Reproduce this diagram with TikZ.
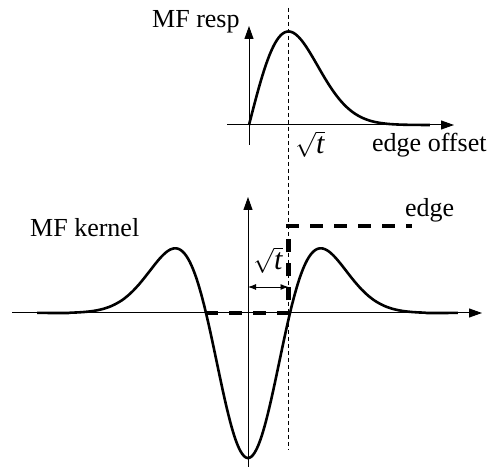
\documentclass[tikz,border=0pt]{standalone}
\usepackage{fontspec}
\setmainfont{Liberation Serif}
\usetikzlibrary{arrows.meta}
\begin{document}
\begin{tikzpicture}[x=1pt,y=-1pt,
  axis/.style={line width=1pt,-{Triangle[length=13pt,width=9pt]}},
  curve/.style={line width=2.6pt,line join=round},
  guide/.style={line width=0.9pt,dash pattern=on 4pt off 3pt},
  edgestep/.style={line width=4.5pt,dash pattern=on 13pt off 11pt},
  widtharrow/.style={line width=0.9pt,{Latex[length=8pt,width=6pt]}-{Latex[length=8pt,width=6pt]}},
  lbl/.style={font=\fontsize{26}{30}\selectfont,inner sep=0pt},
  rootlbl/.style={font=\fontsize{30}{34}\selectfont,inner sep=0pt}]
\useasboundingbox (0,0) rectangle (496,470);
% coordinates
\coordinate (ua0) at (249,145); \coordinate (ua1) at (249,26);
\coordinate (ux0) at (227,125); \coordinate (ux1) at (454,125);
\coordinate (la0) at (248,467); \coordinate (la1) at (248,197);
\coordinate (lx0) at (12,313);  \coordinate (lx1) at (482,313);
\coordinate (g0) at (288.5,8);  \coordinate (g1) at (288.5,450);
\coordinate (e0) at (205,313);  \coordinate (e1) at (288.5,313);
\coordinate (e2) at (288.5,226); \coordinate (e3) at (412,226);
\coordinate (w0) at (248,287);  \coordinate (w1) at (288.5,287);
% axes
\draw[axis] (ua0) -- (ua1);
\draw[axis] (ux0) -- (ux1);
\draw[axis] (la0) -- (la1);
\draw[axis] (lx0) -- (lx1);
% guide
\draw[guide] (g0) -- (g1);
% curves
\draw[curve] plot[domain=0:4.58,samples=140,smooth] ({249+39.5*\x},{125-93.5*\x*exp(0.5-(\x)*(\x)/2)});
\draw[curve] plot[domain=-5.02:5.0,samples=241,smooth] ({248+42*\x},{313-145*((\x)*(\x)-1)*exp(-(\x)*(\x)/2)});
% edge step
\draw[edgestep] (e0) -- (e1) -- (e2) -- (e3);
% width arrow
\draw[widtharrow] (w0) -- (w1);
% labels
\node[lbl,anchor=base west] (mfresp) at (152,28) {MF resp};
\node[lbl,anchor=base west] (offset) at (372,152) {edge offset};
\node[lbl,anchor=base west] (mfkernel) at (30,237) {MF kernel};
\node[lbl,anchor=base west] (edgelbl) at (405,217) {edge};
\node[rootlbl] (sqrtup) at (310,144) {$\sqrt{\textit{t}}$};
\node[rootlbl] (sqrtlow) at (268,260) {$\sqrt{\textit{t}}$};
\end{tikzpicture}
\end{document}
